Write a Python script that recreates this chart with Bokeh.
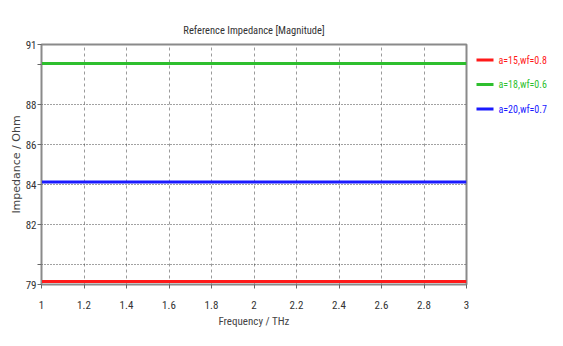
from bokeh.plotting import figure
from bokeh.models import FixedTicker, Range1d
from bokeh.layouts import row
from bokeh.embed import file_html
from bokeh.resources import INLINE

# ---- data ----
freq = [1.0, 3.0]
series_names = ["a=15,wf=0.8", "a=18,wf=0.6", "a=20,wf=0.7"]
series_values = [79.15, 90.05, 84.12]
series_colors = ["#ff1a1a", "#2ebf2e", "#1a1aff"]

x_ticks = [1.0, 1.2, 1.4, 1.6, 1.8, 2.0, 2.2, 2.4, 2.6, 2.8, 3.0]
x_tick_labels = ["1", "1.2", "1.4", "1.6", "1.8", "2", "2.2", "2.4", "2.6", "2.8", "3"]
y_ticks = [79, 80, 82, 84, 86, 88, 90, 91]
y_tick_labels = ["79", "", "82", "84", "86", "88", "", "91"]

FONT = "Roboto Condensed"
FRAME_TOP, FRAME_BOTTOM, HEIGHT = 44, 284, 330

p = figure(width=470, height=HEIGHT, output_backend="svg", toolbar_location=None,
           x_range=Range1d(1, 3), y_range=Range1d(79, 91),
           min_border_left=41, min_border_right=4, min_border_top=FRAME_TOP,
           min_border_bottom=HEIGHT - FRAME_BOTTOM,
           title="Reference Impedance [Magnitude]")

p.title.align = "center"
p.title.text_font = FONT
p.title.text_font_size = "10.5px"
p.title.text_font_style = "normal"
p.title.text_color = "#333333"
p.title.standoff = 16

p.outline_line_color = "#8a8a8a"
p.outline_line_width = 2
p.background_fill_color = "white"
p.border_fill_color = "white"

p.xaxis.ticker = FixedTicker(ticks=x_ticks)
p.xaxis.major_label_overrides = {t: l for t, l in zip(x_ticks, x_tick_labels)}
p.yaxis.ticker = FixedTicker(ticks=y_ticks)
p.yaxis.major_label_overrides = {t: l for t, l in zip(y_ticks, y_tick_labels)}

for ax in (p.xaxis, p.yaxis):
    ax.axis_line_color = "#8a8a8a"
    ax.axis_line_width = 1
    ax.major_tick_line_color = "#666666"
    ax.major_tick_in = 0
    ax.major_tick_out = 4
    ax.minor_tick_line_color = None
    ax.major_label_text_font = FONT
    ax.major_label_text_font_size = "11px"
    ax.major_label_text_color = "#333333"
    ax.axis_label_text_font_size = "11px"
    ax.axis_label_text_font_style = "normal"
    ax.axis_label_text_color = "#444444"

p.xaxis.axis_label = "Frequency / THz"
p.xaxis.axis_label_text_font = FONT
p.xaxis.major_label_standoff = 12
p.xaxis.axis_label_standoff = 3
p.yaxis.axis_label = "Impedance / Ohm"
p.yaxis.axis_label_text_font = "DejaVu Sans"
p.yaxis.axis_label_text_font_size = "11px"
p.yaxis.major_label_standoff = 1
p.yaxis.axis_label_standoff = 0

p.xgrid.grid_line_color = "#9a9a9a"
p.xgrid.grid_line_dash = "3 3"
p.xgrid.grid_line_width = 1
p.ygrid.grid_line_color = "#444444"
p.ygrid.grid_line_dash = "1 2"
p.ygrid.grid_line_width = 1

for name, val, col in zip(series_names, series_values, series_colors):
    p.line(freq, [val, val], line_color=col, line_width=3)

# ---- legend panel (separate small figure so each label keeps its own colour) ----
# its frame is aligned with the main frame, so the y range is given in page pixels
lg = figure(width=77, height=HEIGHT, output_backend="svg", toolbar_location=None,
            x_range=Range1d(0, 77), y_range=Range1d(FRAME_BOTTOM, FRAME_TOP),
            min_border_left=0, min_border_right=0, min_border_top=FRAME_TOP,
            min_border_bottom=HEIGHT - FRAME_BOTTOM, outline_line_color=None)
lg.xaxis.visible = False
lg.yaxis.visible = False
lg.grid.visible = False
n = len(series_names)
ys = [59.5 + 24.5 * i for i in range(n)]
lg.segment(x0=[6] * n, y0=ys, x1=[23] * n, y1=ys, line_color=series_colors, line_width=3)
lg.text(x=[28] * n, y=ys, text=series_names, text_color=series_colors,
        text_font={"value": FONT}, text_font_size={"value": "10px"}, text_baseline="middle")

layout = row(p, lg)
open("out.html", "w").write(file_html(layout, INLINE))
